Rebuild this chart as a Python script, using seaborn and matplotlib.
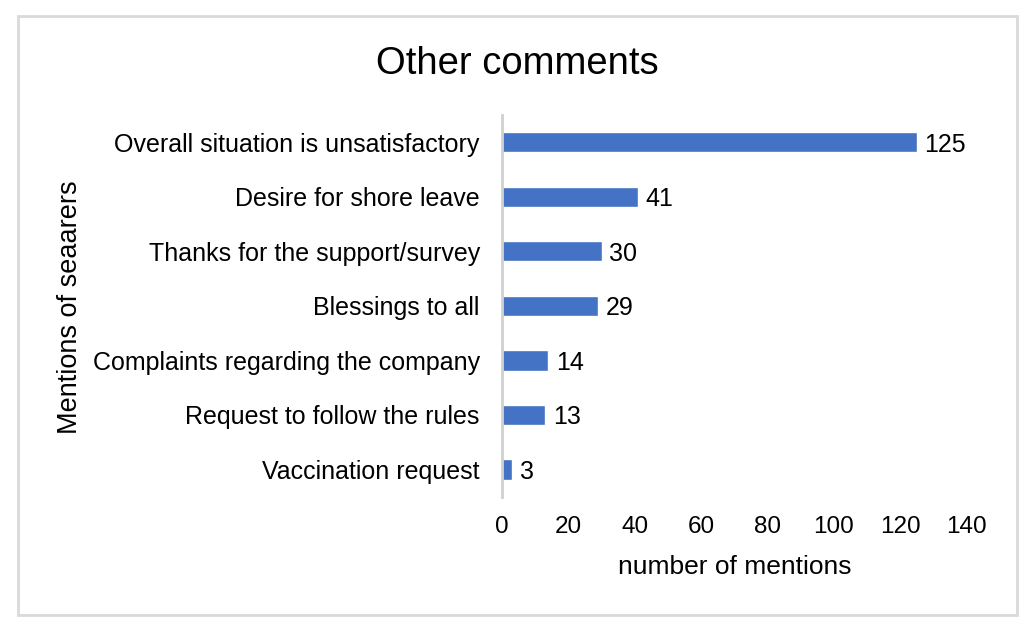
import matplotlib
matplotlib.use("Agg")
import matplotlib.pyplot as plt
import seaborn as sns
import pandas as pd
from matplotlib.patches import Rectangle

categories = [
    "Overall situation is unsatisfactory",
    "Desire for shore leave",
    "Thanks for the support/survey",
    "Blessings to all",
    "Complaints regarding the company",
    "Request to follow the rules",
    "Vaccination request",
]
mentions = [125, 41, 30, 29, 14, 13, 3]
xticks = [0, 20, 40, 60, 80, 100, 120, 140]

df = pd.DataFrame({"category": categories, "mentions": mentions})

sns.set_style("white")
plt.rcParams["font.family"] = ["Liberation Sans", "DejaVu Sans"]
plt.rcParams["text.color"] = "black"
plt.rcParams["axes.labelcolor"] = "black"

fig = plt.figure(figsize=(10.35, 6.36), dpi=100)
ax = fig.add_axes([0.485, 0.219, 0.449, 0.600])

sns.barplot(data=df, x="mentions", y="category", color="#4472C4",
            width=0.37, saturation=1, ax=ax, order=categories)

ax.set_xlim(0, 140)
ax.set_ylim(6.5, -0.5)
ax.set_xticks(xticks)
ax.tick_params(axis="x", labelsize=17.5, length=0, pad=14, colors="black")
ax.tick_params(axis="y", labelsize=18, length=0, pad=16, colors="black")

for s in ["top", "right", "bottom"]:
    ax.spines[s].set_visible(False)
ax.spines["left"].set_color("#D0D0D0")
ax.spines["left"].set_linewidth(2)

for i, v in enumerate(mentions):
    ax.text(v + 2.3, i, str(v), va="center_baseline", ha="left", fontsize=18, color="black")

ax.set_xlabel("number of mentions", fontsize=19, labelpad=12)
ax.set_ylabel("")
fig.text(0.068, 0.517, "Mentions of seaarers", rotation=90, fontsize=19.5,
         ha="center", va="center")
fig.text(0.5, 0.9, "Other comments", fontsize=27.5, ha="center", va="center")

fig.patches.append(Rectangle((0.017, 0.033), 0.966, 0.942, transform=fig.transFigure,
                             fill=False, edgecolor="#D9D9D9", linewidth=2))

fig.savefig("out.png", dpi=100)
